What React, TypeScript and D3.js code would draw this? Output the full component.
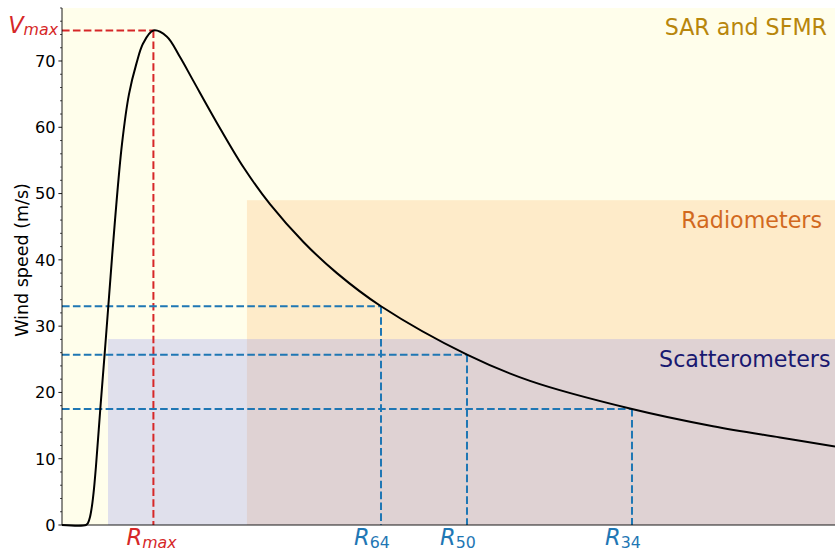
import React from "react";
import * as d3 from "d3";

const radius = [0, 12.42, 13.45, 14.49, 15.52, 16.56, 17.59, 19.82, 22.04, 23.96, 27.43, 31.05, 34.67, 38.5, 42.07, 47.25, 54.18, 61.06, 67.89, 80.1, 93.82, 107.63, 124.92, 142.25, 165.07, 209.57, 242.17, 294.95, 336.87, 371.54, 400];
const windSpeed = [0, 0, 0.3, 1.2, 2.9, 5.5, 8.9, 17.5, 25.7, 33.0, 46.0, 57.5, 65.0, 69.6, 72.7, 74.6, 73.7, 70.6, 67.04, 60.7, 54.0, 48.4, 42.7, 38.0, 33.0, 25.7, 21.75, 17.5, 14.9, 13.2, 11.85];

const yTicks = [0, 10, 20, 30, 40, 50, 60, 70];
const yMinorTicks = d3.range(0, 79, 2).filter((v) => v % 10 !== 0);

const vMax = 74.6;
const rMax = 47.3;
const thresholds = [
  { sub: "64", r: 165.07, v: 33.0 },
  { sub: "50", r: 209.57, v: 25.7 },
  { sub: "34", r: 294.95, v: 17.5 },
];

const regions = [
  { name: "SAR and SFMR", r0: 0, vTop: 78, fill: "#fffeeb", opacity: 1, color: "#b8860b", labelX: 827, labelY: 35 },
  { name: "Radiometers", r0: 95.7, vTop: 49.0, fill: "#feebc9", opacity: 1, color: "#d2691e", labelX: 822, labelY: 227.5 },
  { name: "Scatterometers", r0: 23.8, vTop: 28.05, fill: "#898cef", opacity: 0.26, color: "#191970", labelX: 830.5, labelY: 366.7 },
];

const FONT = "DejaVu Sans, sans-serif";

export default function App() {
  const W = 835;
  const H = 551;
  const x = d3.scaleLinear().domain([0, 400]).range([62, 835]);
  const y = d3.scaleLinear().domain([0, 78]).range([525, 525 - 78 * 6.6286]);

  const pts: [number, number][] = radius.map((r, i) => [r, windSpeed[i]]);
  const line = d3
    .line<[number, number]>()
    .x((d) => x(d[0]))
    .y((d) => Math.min(y(d[1]), y(0)))
    .curve(d3.curveCatmullRom.alpha(0.5));

  const dash = "7.6 3.3";
  const x0 = x(0);
  const y0 = y(0);

  return (
    <svg
      width={W}
      height={H}
      style={{ position: "absolute", left: 0, top: 0, background: "#fff" }}
      fontFamily={FONT}
    >
      {regions.map((g) => (
        <rect
          key={g.name}
          x={x(g.r0)}
          y={y(g.vTop)}
          width={x(400) - x(g.r0)}
          height={y(0) - y(g.vTop)}
          fill={g.fill}
          fillOpacity={g.opacity}
        />
      ))}

      <line x1={x0} x2={x(rMax)} y1={y(vMax)} y2={y(vMax)} stroke="#d62728" strokeWidth={2} strokeDasharray={dash} />
      <line x1={x(rMax)} x2={x(rMax)} y1={y(vMax)} y2={y0} stroke="#d62728" strokeWidth={2} strokeDasharray={dash} />

      {thresholds.map((t) => (
        <g key={t.sub}>
          <line x1={x0} x2={x(t.r)} y1={y(t.v)} y2={y(t.v)} stroke="#1f77b4" strokeWidth={2} strokeDasharray={dash} />
          <line x1={x(t.r)} x2={x(t.r)} y1={y(t.v)} y2={y0} stroke="#1f77b4" strokeWidth={2} strokeDasharray={dash} />
        </g>
      ))}

      <path d={line(pts) || ""} fill="none" stroke="#000" strokeWidth={2} strokeLinejoin="round" />

      {regions.map((g) => (
        <text key={g.name + "l"} x={g.labelX} y={g.labelY} textAnchor="end" fontSize={22.2} fill={g.color}>
          {g.name}
        </text>
      ))}

      <line x1={x0} x2={x0} y1={y(78)} y2={y0} stroke="#000" strokeWidth={0.9} />
      <line x1={x0} x2={W} y1={y0} y2={y0} stroke="#000" strokeWidth={0.9} />

      {yTicks.map((t) => (
        <g key={t}>
          <line x1={x0 - 3.6} x2={x0} y1={y(t)} y2={y(t)} stroke="#000" strokeWidth={0.9} />
          <text x={x0 - 6.5} y={y(t)} dy="0.36em" textAnchor="end" fontSize={16.2} fill="#000">
            {t}
          </text>
        </g>
      ))}
      {yMinorTicks.map((t) => (
        <line key={"m" + t} x1={x0 - 2} x2={x0} y1={y(t)} y2={y(t)} stroke="#000" strokeWidth={0.7} />
      ))}

      <text transform={`translate(28,260) rotate(-90)`} textAnchor="middle" fontSize={17.5} fill="#000">
        Wind speed (m/s)
      </text>

      <text x={58} y={33.3} textAnchor="end" fill="#d62728" fontSize={22.5}>
        <tspan fontStyle="italic">V</tspan>
        <tspan fontStyle="italic" fontSize={15.8} dy={1.5}>max</tspan>
      </text>

      <text x={x(rMax) - 1.8} y={545} textAnchor="middle" fill="#d62728" fontSize={22.5}>
        <tspan fontStyle="italic">R</tspan>
        <tspan fontStyle="italic" fontSize={15.8} dy={2.5}>max</tspan>
      </text>
      {thresholds.map((t) => (
        <text key={"r" + t.sub} x={x(t.r) - 9} y={545} textAnchor="middle" fill="#1f77b4" fontSize={22.5}>
          <tspan fontStyle="italic">R</tspan>
          <tspan fontSize={15.8} dy={3}>{t.sub}</tspan>
        </text>
      ))}
    </svg>
  );
}
